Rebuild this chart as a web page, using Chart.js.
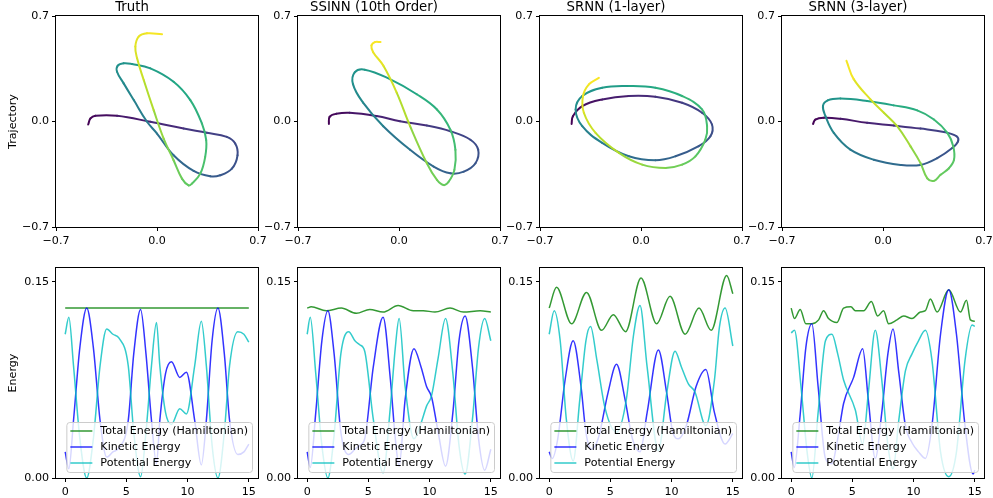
<!DOCTYPE html>
<html>
<head>
<meta charset="utf-8">
<script src="https://cdn.jsdelivr.net/npm/chart.js@4.4.1/dist/chart.umd.min.js"></script>
<style>
  body { margin: 0; width: 993px; height: 498px; overflow: hidden; background: #fff; position: relative; }
  canvas { position: absolute; }
</style>
</head>
<body>
<canvas id="traj0"></canvas><canvas id="traj1"></canvas><canvas id="traj2"></canvas><canvas id="traj3"></canvas>
<canvas id="en0"></canvas><canvas id="en1"></canvas><canvas id="en2"></canvas><canvas id="en3"></canvas>
<script>
const FS = 11.1;     // matplotlib 10pt at this figure's dpi
Chart.defaults.font.family = "'DejaVu Sans', sans-serif";
Chart.defaults.font.size = FS;
Chart.defaults.color = '#000';

const panelTitles = ['Truth', 'SSINN (10th Order)', 'SRNN (1-layer)', 'SRNN (3-layer)'];
const trajTicks = [-0.7, 0, 0.7];
const timeTicks = [0, 5, 10, 15];
const energyTicks = [0, 0.15];
const energyLabels = ['Total Energy (Hamiltonian)', 'Kinetic Energy', 'Potential Energy'];

// trajectories (x, y), in time order
const truthX = [-0.477,-0.461,-0.427,-0.277,-0.046,0.185,0.346,0.484,0.542,0.558,0.519,0.438,0.369,0.254,0.115,0.000,-0.069,-0.161,-0.231,-0.277,-0.272,-0.231,-0.173,-0.046,0.115,0.231,0.311,0.341,0.334,0.300,0.242,0.219,0.173,0.115,0.046,-0.023,-0.092,-0.138,-0.150,-0.127,-0.069,0.035];
const truthY = [-0.020,0.020,0.038,0.038,-0.002,-0.047,-0.075,-0.102,-0.146,-0.224,-0.313,-0.357,-0.364,-0.328,-0.224,-0.080,-0.002,0.142,0.253,0.330,0.370,0.386,0.381,0.353,0.264,0.142,-0.013,-0.124,-0.235,-0.346,-0.412,-0.424,-0.379,-0.257,-0.113,0.075,0.275,0.419,0.497,0.563,0.585,0.579];
const ssinnX = [-0.486,-0.481,-0.435,-0.342,-0.156,0.007,0.193,0.356,0.495,0.549,0.530,0.449,0.356,0.240,0.077,-0.109,-0.249,-0.319,-0.307,-0.237,-0.063,0.123,0.263,0.356,0.391,0.384,0.344,0.309,0.263,0.193,0.077,-0.016,-0.109,-0.179,-0.191,-0.167,-0.128];
const ssinnY = [-0.016,0.031,0.051,0.058,0.036,0.002,-0.027,-0.065,-0.121,-0.188,-0.277,-0.333,-0.344,-0.299,-0.188,-0.031,0.125,0.248,0.326,0.344,0.281,0.181,0.080,-0.054,-0.188,-0.321,-0.400,-0.422,-0.388,-0.277,-0.031,0.192,0.371,0.460,0.504,0.527,0.527];
const srnn1X = [-0.481,-0.472,-0.407,-0.269,-0.084,0.100,0.285,0.423,0.492,0.481,0.400,0.239,0.100,-0.084,-0.269,-0.407,-0.453,-0.407,-0.269,-0.084,0.100,0.285,0.423,0.458,0.446,0.377,0.285,0.170,0.008,-0.153,-0.315,-0.396,-0.402,-0.361,-0.292];
const srnn1Y = [-0.016,0.035,0.102,0.146,0.169,0.164,0.124,0.058,-0.020,-0.098,-0.164,-0.231,-0.257,-0.231,-0.142,-0.031,0.080,0.169,0.224,0.235,0.224,0.169,0.080,-0.031,-0.120,-0.231,-0.286,-0.308,-0.286,-0.208,-0.075,0.058,0.169,0.246,0.290];
const srnn3X = [-0.485,-0.469,-0.411,-0.295,-0.110,0.075,0.260,0.422,0.510,0.520,0.480,0.376,0.260,0.122,-0.064,-0.226,-0.341,-0.399,-0.416,-0.383,-0.295,-0.110,0.075,0.237,0.353,0.446,0.487,0.492,0.457,0.399,0.353,0.307,0.260,0.191,0.098,0.006,-0.087,-0.203,-0.253];
const srnn3Y = [-0.016,0.013,0.025,0.018,-0.009,-0.027,-0.047,-0.069,-0.098,-0.132,-0.176,-0.243,-0.288,-0.288,-0.254,-0.187,-0.076,0.036,0.103,0.140,0.152,0.136,0.107,0.074,0.013,-0.076,-0.165,-0.254,-0.310,-0.354,-0.394,-0.377,-0.276,-0.165,-0.031,0.058,0.147,0.281,0.403];

// energies: time stamps + values
const truthTotT = [0, 15];
const truthTot = [0.130, 0.130];
const truthT = [0,0.3,0.68,1.2,1.76,2.3,2.85,3.39,3.9,4.4,5.15,5.6,6.16,6.6,7.05,7.46,7.73,8.2,8.68,9.36,9.9,10.58,11.12,11.53,12.0,12.48,13.0,13.43,14.1,14.6,15];
const truthKin = [0.020,0.007,0.044,0.100,0.130,0.100,0.044,0.016,0.020,0.023,0.044,0.095,0.129,0.095,0.044,0.011,0.044,0.080,0.089,0.077,0.081,0.044,0.010,0.044,0.105,0.130,0.095,0.044,0.018,0.020,0.026];
const truthPot = [0.110,0.123,0.086,0.030,0.000,0.030,0.086,0.114,0.110,0.107,0.086,0.035,0.001,0.035,0.086,0.119,0.086,0.050,0.041,0.053,0.049,0.086,0.120,0.086,0.025,0.000,0.035,0.086,0.112,0.110,0.104];

const ssinnTotT = [0,0.33,1.56,2.79,4.02,5.11,6.2,7.43,8.66,9.48,10.44,11.67,12.76,14.13,15];
const ssinnTot = [0.130,0.131,0.128,0.130,0.126,0.129,0.127,0.132,0.128,0.128,0.127,0.130,0.127,0.128,0.127];
const ssinnT = [0,0.25,0.7,1.2,1.69,2.2,2.75,3.39,3.9,4.29,4.7,5.4,6.2,6.8,7.2,7.51,8.0,8.72,9.3,9.75,10.16,10.7,11.3,11.9,12.4,12.9,13.5,14.0,14.5,15];
const ssinnKin = [0.020,0.008,0.050,0.105,0.128,0.095,0.035,0.018,0.022,0.025,0.030,0.085,0.123,0.075,0.030,0.009,0.060,0.099,0.085,0.070,0.062,0.035,0.009,0.050,0.105,0.124,0.085,0.030,0.006,0.022];
const ssinnPot = [0.110,0.123,0.080,0.025,0.000,0.033,0.095,0.112,0.105,0.102,0.097,0.045,0.004,0.055,0.100,0.122,0.070,0.030,0.042,0.055,0.063,0.092,0.122,0.080,0.025,0.003,0.045,0.100,0.122,0.105];

const srnn1TotT = [0,0.6,1.83,3.05,4.28,5.24,6.24,7.5,8.78,9.87,11.1,12.24,13.23,14.5,15];
const srnn1Tot = [0.130,0.146,0.118,0.142,0.113,0.125,0.112,0.153,0.118,0.139,0.110,0.130,0.113,0.155,0.141];
const srnn1KinT = [0,0.25,0.7,1.3,1.96,2.6,3.0,3.46,4.0,4.8,5.5,6.2,6.8,7.42,8.0,8.92,9.6,10.1,10.55,11.2,12.0,12.8,13.5,14.37,15];
const srnn1Kin = [0.020,0.015,0.030,0.075,0.105,0.070,0.035,0.022,0.030,0.065,0.087,0.060,0.030,0.020,0.050,0.098,0.065,0.035,0.030,0.040,0.070,0.083,0.050,0.026,0.034];
const srnn1PotT = [0,0.41,0.9,1.4,1.96,2.5,3.0,3.38,3.9,4.55,5.5,6.3,6.9,7.42,8.0,8.92,9.6,10.28,10.8,11.37,11.9,12.8,13.5,13.9,14.37,15];
const srnn1Pot = [0.110,0.128,0.105,0.045,0.013,0.060,0.105,0.116,0.090,0.054,0.035,0.060,0.110,0.132,0.085,0.021,0.065,0.097,0.085,0.072,0.066,0.040,0.075,0.115,0.130,0.101];

const srnn3TotT = [0,0.27,0.74,1.2,1.69,2.24,2.65,3.05,3.74,4.28,4.88,5.24,5.92,6.55,7.06,7.55,7.96,8.64,9.19,9.87,10.55,10.96,11.37,11.92,12.87,13.83,14.32,14.64,15];
const srnn3Tot = [0.130,0.122,0.129,0.118,0.118,0.121,0.128,0.122,0.119,0.130,0.131,0.128,0.128,0.135,0.124,0.128,0.118,0.121,0.124,0.122,0.127,0.128,0.137,0.127,0.144,0.127,0.136,0.121,0.120];
const srnn3KinT = [0,0.25,0.7,1.2,1.69,2.2,2.8,3.33,3.8,4.28,5.1,5.84,6.3,6.87,7.4,7.9,8.32,8.8,9.33,9.87,10.4,10.96,11.5,12.2,12.87,13.5,14.2,14.86,15];
const srnn3Kin = [0.020,0.008,0.045,0.100,0.118,0.070,0.015,0.011,0.030,0.057,0.077,0.099,0.060,0.015,0.050,0.095,0.114,0.080,0.040,0.027,0.020,0.015,0.040,0.110,0.144,0.110,0.040,0.003,0.006];
const srnn3PotT = [0,0.27,0.8,1.3,1.69,2.2,2.8,3.33,3.8,4.28,5.24,5.84,6.3,6.87,7.4,7.9,8.32,8.8,9.33,9.87,10.4,10.96,11.5,12.2,12.87,13.5,14.2,14.78,15];
const srnn3Pot = [0.111,0.113,0.070,0.020,0.000,0.050,0.105,0.110,0.095,0.075,0.052,0.026,0.065,0.113,0.075,0.025,0.007,0.045,0.082,0.095,0.105,0.113,0.090,0.020,0.001,0.020,0.090,0.117,0.116];

const trajectories = [[truthX, truthY], [ssinnX, ssinnY], [srnn1X, srnn1Y], [srnn3X, srnn3Y]];
const energies = [
    [[truthTotT, truthTot], [truthT, truthKin], [truthT, truthPot]],
    [[ssinnTotT, ssinnTot], [ssinnT, ssinnKin], [ssinnT, ssinnPot]],
    [[srnn1TotT, srnn1Tot], [srnn1KinT, srnn1Kin], [srnn1PotT, srnn1Pot]],
    [[srnn3TotT, srnn3Tot], [srnn3KinT, srnn3Kin], [srnn3PotT, srnn3Pot]]
];
const energyColors = ['rgba(0,128,0,0.8)', 'rgba(0,0,255,0.8)', 'rgba(0,191,191,0.8)'];

const VIRIDIS = ['#440154','#482475','#414487','#355f8d','#2a788e','#21918c','#22a884','#44bf70','#7ad151','#bddf26','#fde725'];
function hex(c) { return [1, 3, 5].map(i => parseInt(c.substr(i, 2), 16)); }
function viridis(f) {
    f = Math.min(1, Math.max(0, f)) * (VIRIDIS.length - 1);
    const i = Math.min(Math.floor(f), VIRIDIS.length - 2), t = f - i;
    const a = hex(VIRIDIS[i]), b = hex(VIRIDIS[i + 1]);
    return `rgb(${a.map((v, k) => Math.round(v + (b[k] - v) * t)).join(',')})`;
}

const fmtSigned = v => (v < 0 ? '\u2212' : '') + Math.abs(v).toFixed(1);

// box around plot area (matplotlib spines)
const frame = {
    id: 'frame',
    afterDraw(chart) {
        const { ctx, chartArea: a } = chart;
        ctx.save();
        ctx.strokeStyle = '#000';
        ctx.lineWidth = 1;
        ctx.strokeRect(a.left - 0.5, a.top - 0.5, a.right - a.left + 1, a.bottom - a.top + 1);
        ctx.restore();
    }
};

// legend drawn over the lines, semi-transparent like matplotlib's
const energyLegend = {
    id: 'energyLegend',
    afterDatasetsDraw(chart) {
        const { ctx, chartArea: a } = chart;
        const sets = chart.data.datasets;
        ctx.save();
        ctx.font = FS + "px 'DejaVu Sans', sans-serif";
        const tw = Math.max(...sets.map(d => ctx.measureText(d.label).width));
        const w = 4 + 22 + 8 + tw + 4, h = 50;
        const x0 = a.right - 6 - w, y0 = a.bottom - 6 - h;
        ctx.beginPath();
        ctx.roundRect(x0 + 0.5, y0 + 0.5, w, h, 3);
        ctx.fillStyle = 'rgba(255,255,255,0.8)';
        ctx.fill();
        ctx.strokeStyle = '#cccccc';
        ctx.lineWidth = 1;
        ctx.stroke();
        sets.forEach((d, i) => {
            const y = y0 + 9 + 16 * i;
            ctx.beginPath();
            ctx.moveTo(x0 + 4, y);
            ctx.lineTo(x0 + 26, y);
            ctx.strokeStyle = d.borderColor;
            ctx.lineWidth = 1.5;
            ctx.stroke();
            ctx.fillStyle = '#000';
            ctx.textBaseline = 'middle';
            ctx.fillText(d.label, x0 + 34, y + 0.5);
        });
        ctx.restore();
    }
};

function axis(min, max, ticks, fmt, horizontal, title) {
    return {
        type: 'linear', min: min, max: max,
        afterBuildTicks: s => { s.ticks = ticks.map(v => ({ value: v })); },
        afterFit: s => {
            if (horizontal) { s.height = 22; s.paddingLeft = 0; s.paddingRight = 0; }
            else { s.width = 50; s.paddingTop = 0; s.paddingBottom = 0; }
        },
        ticks: { callback: fmt, autoSkip: false, maxRotation: 0, padding: 3, color: '#000', font: { size: FS } },
        grid: { drawOnChartArea: false, drawTicks: true, tickLength: 4, color: '#000' },
        border: { display: false },
        title: title ? { display: true, text: title, font: { size: FS, lineHeight: '14px' }, padding: 0, color: '#000' } : { display: false }
    };
}

function place(canvas, left, top, w, h) {
    canvas.width = w; canvas.height = h;
    canvas.style.left = left + 'px'; canvas.style.top = top + 'px';
    canvas.style.width = w + 'px'; canvas.style.height = h + 'px';
}

const PLOT_W = 202, STEP = 242;

trajectories.forEach(([xs, ys], i) => {
    const cv = document.getElementById('traj' + i);
    place(cv, 6 + STEP * i, -4, 50 + PLOT_W + 14, 4 + 16 + 211 + 22);
    const pts = xs.map((x, k) => ({ x: x, y: ys[k] }));
    // colour along the path by travelled distance
    const cum = [0];
    for (let k = 1; k < pts.length; k++) cum.push(cum[k - 1] + Math.hypot(pts[k].x - pts[k - 1].x, pts[k].y - pts[k - 1].y));
    const frac = cum.map(c => c / cum[cum.length - 1]);
    new Chart(cv, {
        type: 'line',
        data: { datasets: [{
            data: pts, borderWidth: 2, pointRadius: 0, tension: 0.4,
            borderCapStyle: 'round', borderJoinStyle: 'round',
            borderColor: viridis(0),
            segment: { borderColor: c => viridis((frac[c.p0DataIndex] + frac[c.p1DataIndex]) / 2) }
        }] },
        options: {
            responsive: false, animation: false, devicePixelRatio: 1,
            layout: { padding: { left: 0, right: 14, top: 4, bottom: 0 } },
            scales: {
                x: axis(-0.7, 0.7, trajTicks, fmtSigned, true),
                y: axis(-0.7, 0.7, trajTicks, fmtSigned, false, i === 0 ? 'Trajectory' : null)
            },
            plugins: {
                legend: { display: false }, tooltip: { enabled: false },
                title: { display: true, text: panelTitles[i], color: '#000', font: { size: 13.3, weight: 'normal', lineHeight: '16px' }, padding: { top: 0, bottom: 0 } }
            }
        },
        plugins: [frame]
    });
});

energies.forEach((series, i) => {
    const cv = document.getElementById('en' + i);
    place(cv, 6 + STEP * i, 258, 50 + PLOT_W + 14, 10 + 210 + 22);
    new Chart(cv, {
        type: 'line',
        data: { datasets: series.map(([t, v], k) => ({
            label: energyLabels[k],
            data: t.map((x, j) => ({ x: x, y: v[j] })),
            borderColor: energyColors[k], borderWidth: 1.5, pointRadius: 0,
            cubicInterpolationMode: 'monotone', order: 3 - k
        })) },
        options: {
            responsive: false, animation: false, devicePixelRatio: 1,
            layout: { padding: { left: 0, right: 14, top: 10, bottom: 0 } },
            scales: {
                x: axis(-0.75, 15.75, timeTicks, v => String(v), true),
                y: axis(0, 0.1607, energyTicks, v => v.toFixed(2), false, i === 0 ? 'Energy' : null)
            },
            plugins: { legend: { display: false }, tooltip: { enabled: false } }
        },
        plugins: [frame, energyLegend]
    });
});
</script>
</body>
</html>
